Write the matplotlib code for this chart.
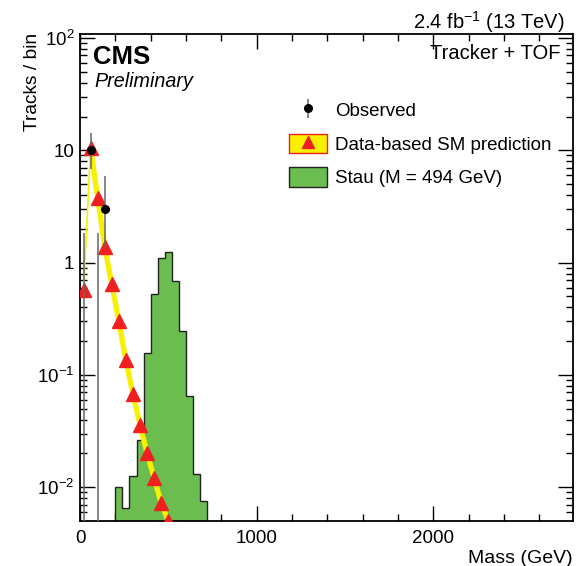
import matplotlib
matplotlib.use("Agg")
import matplotlib.pyplot as plt
from matplotlib.patches import Patch
from matplotlib.lines import Line2D
from matplotlib.ticker import FixedLocator, LogLocator, FuncFormatter, NullFormatter

plt.rcParams['font.family'] = ['Liberation Sans', 'DejaVu Sans']
plt.rcParams['mathtext.fontset'] = 'custom'
plt.rcParams['mathtext.rm'] = 'Liberation Sans'
plt.rcParams['mathtext.it'] = 'Liberation Sans:italic'

# observed data (bin centres, counts, asymmetric poisson errors)
obs_mass = [20, 60, 100, 140]
obs_count = [0, 10, 0, 3]
obs_err_lo = [0, 3.11, 0, 1.63]
obs_err_hi = [1.84, 4.27, 1.84, 2.92]

# data-based SM prediction
pred_mass = [20, 60, 100, 140, 180, 220, 260, 300, 340, 380, 420, 460, 500]
pred_val = [0.57, 10.4, 3.8, 1.38, 0.64, 0.30, 0.135, 0.067, 0.036, 0.020, 0.012, 0.0072, 0.0050]

# stau signal, M = 494 GeV
stau_edges = [200, 240, 280, 320, 360, 400, 440, 480, 520, 560, 600, 640, 680, 720]
stau_val = [0.0100, 0.0066, 0.0125, 0.0264, 0.157, 0.526, 1.10, 1.245, 0.687, 0.247, 0.0655, 0.0130, 0.0075]

W, H = 579, 566
fig = plt.figure(figsize=(W / 100, H / 100), dpi=100)
ax = fig.add_axes([80 / W, 1 - 520.7 / H, 493 / W, 486.7 / H])

ax.set_yscale('log')
ax.set_xlim(0, 2790)
ax.set_ylim(0.00504, 108.6)

green = '#6bbd50'
yellow = '#f8f000'
red = '#f02020'

ax.stairs(stau_val, stau_edges, fill=True, facecolor=green, edgecolor='#222222',
          linewidth=1.0, baseline=1e-4, zorder=2)

# uncertainty band drawn as thick yellow line
ax.plot(pred_mass[:2], pred_val[:2], color=yellow, lw=1.2, zorder=3)
ax.plot(pred_mass[1:], pred_val[1:], color=yellow, lw=3.8, solid_capstyle='butt', zorder=3)
ax.plot(pred_mass, pred_val, ls='', marker='^', ms=9.5, color=red, mec=red, zorder=4)

obs = ax.errorbar(obs_mass, obs_count, yerr=[obs_err_lo, obs_err_hi], fmt='o', ms=5.5,
                  color='black', ecolor='#666666', elinewidth=1.1, capsize=0, zorder=5)

# ticks, ROOT style
ax.xaxis.set_major_locator(FixedLocator([0, 1000, 2000]))
ax.xaxis.set_minor_locator(FixedLocator(list(range(0, 2800, 200))))
ax.yaxis.set_major_locator(LogLocator(base=10, numticks=10))
ax.yaxis.set_minor_locator(LogLocator(base=10, subs=range(2, 10), numticks=20))
ax.yaxis.set_minor_formatter(NullFormatter())


def ylab(v, pos):
    labels = {100: r'$10^{2}$', 10: '10', 1: '1', 0.1: r'$10^{-1}$', 0.01: r'$10^{-2}$'}
    for k, s in labels.items():
        if abs(v - k) / k < 1e-6:
            return s
    return ''


ax.yaxis.set_major_formatter(FuncFormatter(ylab))
ax.tick_params(which='both', direction='in', top=True, right=True, labelsize=13.5, width=1.0)
ax.tick_params(which='major', length=10.5)
ax.tick_params(which='minor', length=5)
ax.tick_params(axis='x', pad=7)
ax.tick_params(axis='y', pad=4)
for sp in ax.spines.values():
    sp.set_linewidth(1.3)

fig.text(573 / W, 1 - 563 / H, 'Mass (GeV)', ha='right', va='baseline', fontsize=14)
fig.text(41.5 / W, 1 - 33 / H, 'Tracks / bin', rotation=90, ha='right', va='top', fontsize=13.8)

fig.text(565 / W, 1 - 28.3 / H, r'2.4 fb$^{-1}$ (13 TeV)', ha='right', va='baseline', fontsize=14.5)
fig.text(560 / W, 1 - 59.3 / H, 'Tracker + TOF', ha='right', va='baseline', fontsize=14.5)
fig.text(93 / W, 1 - 64 / H, 'CMS', ha='left', va='baseline', fontsize=18.5, fontweight='bold')
fig.text(94 / W, 1 - 87.3 / H, 'Preliminary', ha='left', va='baseline', fontsize=14.2, style='italic')

pred_handle = (Patch(facecolor=yellow, edgecolor=red, linewidth=1.0),
               Line2D([], [], ls='', marker='^', ms=9, color=red))
stau_handle = Patch(facecolor=green, edgecolor='#222222', linewidth=1.0)
fs = 13.5
ax.legend([obs, pred_handle, stau_handle],
          ['Observed', 'Data-based SM prediction', 'Stau (M = 494 GeV)'],
          loc='upper left', bbox_to_anchor=(289.3 / W, 1 - 100.5 / H), bbox_transform=fig.transFigure,
          frameon=False, borderpad=0, borderaxespad=0, fontsize=fs,
          handlelength=2.03, handleheight=1.2, handletextpad=0.41, labelspacing=0.72)

fig.savefig('out.png', dpi=100)
